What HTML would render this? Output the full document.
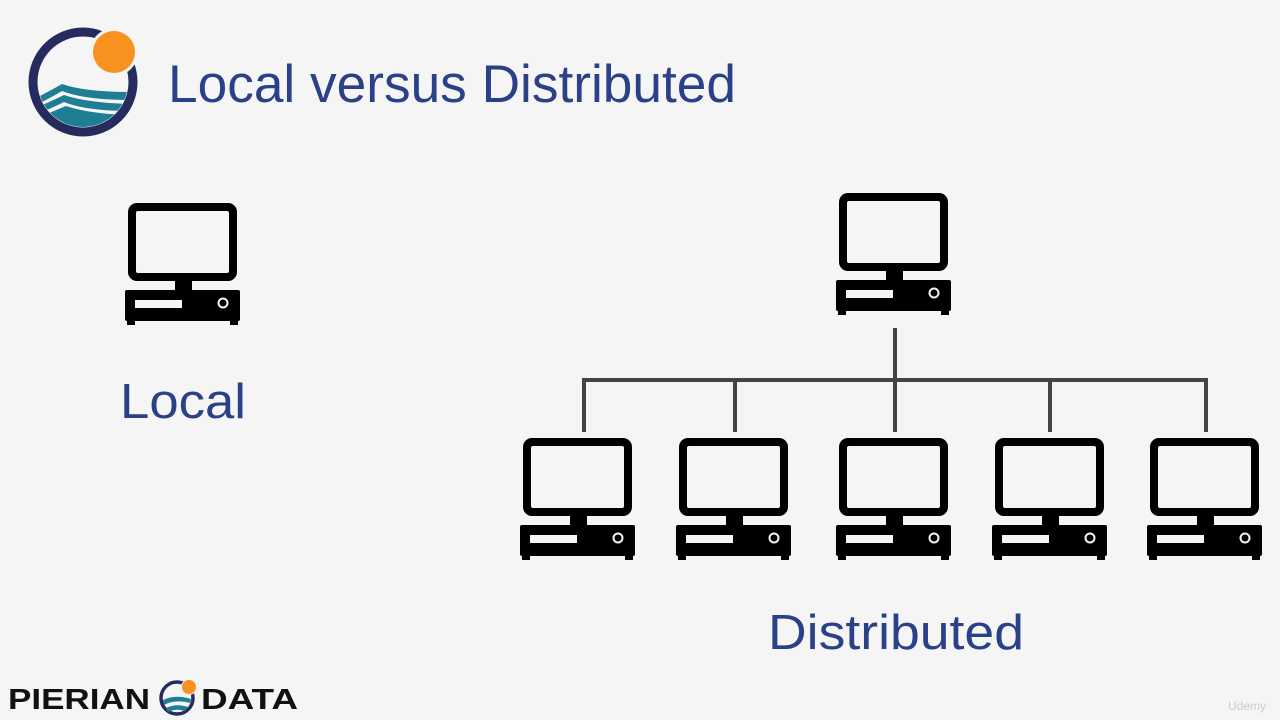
<!DOCTYPE html>
<html><head><meta charset="utf-8"><style>
html,body{margin:0;padding:0;background:#f5f5f5;}
svg{display:block}
</style></head><body>
<svg width="1280" height="720" viewBox="0 0 1280 720" xmlns="http://www.w3.org/2000/svg">
<defs>
<g id="pc">
<rect x="3" y="0" width="109" height="78" rx="9" fill="#000"/>
<rect x="11" y="8" width="93" height="62" rx="2" fill="#f5f5f5"/>
<rect x="50" y="77" width="17" height="12" fill="#000"/>
<rect x="0" y="87" width="115" height="31" rx="2" fill="#000"/>
<rect x="10" y="97" width="47" height="8" fill="#f5f5f5"/>
<circle cx="98" cy="100" r="4.5" fill="none" stroke="#f5f5f5" stroke-width="2"/>
<rect x="2" y="117" width="8" height="5" fill="#000"/>
<rect x="105" y="117" width="8" height="5" fill="#000"/>
</g>
<clipPath id="cc"><circle cx="83" cy="82" r="45"/></clipPath>
</defs>
<rect width="1280" height="720" fill="#f5f5f5"/>
<!-- logo -->
<circle cx="83" cy="82" r="50" fill="none" stroke="#262b5e" stroke-width="9"/>
<circle cx="114" cy="52" r="24" fill="#f5f5f5"/>
<circle cx="114" cy="52" r="21" fill="#f7921e"/>
<g clip-path="url(#cc)" fill="#1f7d94">
<path d="M40 96 Q55 88 62 84 Q85 92 130 92 L130 100 Q85 100 62 91 Q52 97 40 103Z"/>
<path d="M40 106 Q56 99 64 95 Q88 103 130 104 L130 111 Q86 111 64 102 Q54 107 40 113Z"/>
<path d="M40 117 Q56 110 66 106 Q90 114 130 115 L130 135 L40 135Z"/>
</g>
<text x="168" y="102" font-family="Liberation Sans, sans-serif" font-size="53" fill="#2a4087" textLength="568" lengthAdjust="spacingAndGlyphs">Local versus Distributed</text>
<!-- local -->
<use href="#pc" x="125" y="203"/>
<text x="120" y="418" font-family="Liberation Sans, sans-serif" font-size="49" fill="#2a4087" textLength="126" lengthAdjust="spacingAndGlyphs">Local</text>
<!-- distributed -->
<use href="#pc" x="836" y="193"/>
<g stroke="#444" stroke-width="4" fill="none">
<line x1="895" y1="328" x2="895" y2="432"/>
<line x1="582" y1="380" x2="1208" y2="380"/>
<line x1="584" y1="380" x2="584" y2="432"/>
<line x1="735" y1="380" x2="735" y2="432"/>
<line x1="1050" y1="380" x2="1050" y2="432"/>
<line x1="1206" y1="380" x2="1206" y2="432"/>
</g>
<use href="#pc" x="520" y="438"/>
<use href="#pc" x="676" y="438"/>
<use href="#pc" x="836" y="438"/>
<use href="#pc" x="992" y="438"/>
<use href="#pc" x="1147" y="438"/>
<text x="768" y="649" font-family="Liberation Sans, sans-serif" font-size="49" fill="#2a4087" textLength="256" lengthAdjust="spacingAndGlyphs">Distributed</text>
<!-- footer -->
<text x="8" y="709" font-family="Liberation Sans, sans-serif" font-weight="bold" font-size="29" fill="#111" textLength="142" lengthAdjust="spacingAndGlyphs">PIERIAN</text>
<circle cx="177" cy="698" r="16" fill="none" stroke="#262b5e" stroke-width="3.5"/>
<circle cx="189" cy="687" r="8" fill="#f5f5f5"/>
<circle cx="189" cy="687" r="7" fill="#f7921e"/>
<path d="M163 700 Q175 694 191 699 L190 703 Q175 699 164 705Z M166 708 Q176 703 188 707 L185 711 Q176 708 168 712Z" fill="#1f7d94"/>
<text x="201" y="709" font-family="Liberation Sans, sans-serif" font-weight="bold" font-size="29" fill="#111" textLength="97" lengthAdjust="spacingAndGlyphs">DATA</text>
<text x="1228" y="710" font-family="Liberation Sans, sans-serif" font-size="12" fill="#ccc">Udemy</text>
</svg>
</body></html>
